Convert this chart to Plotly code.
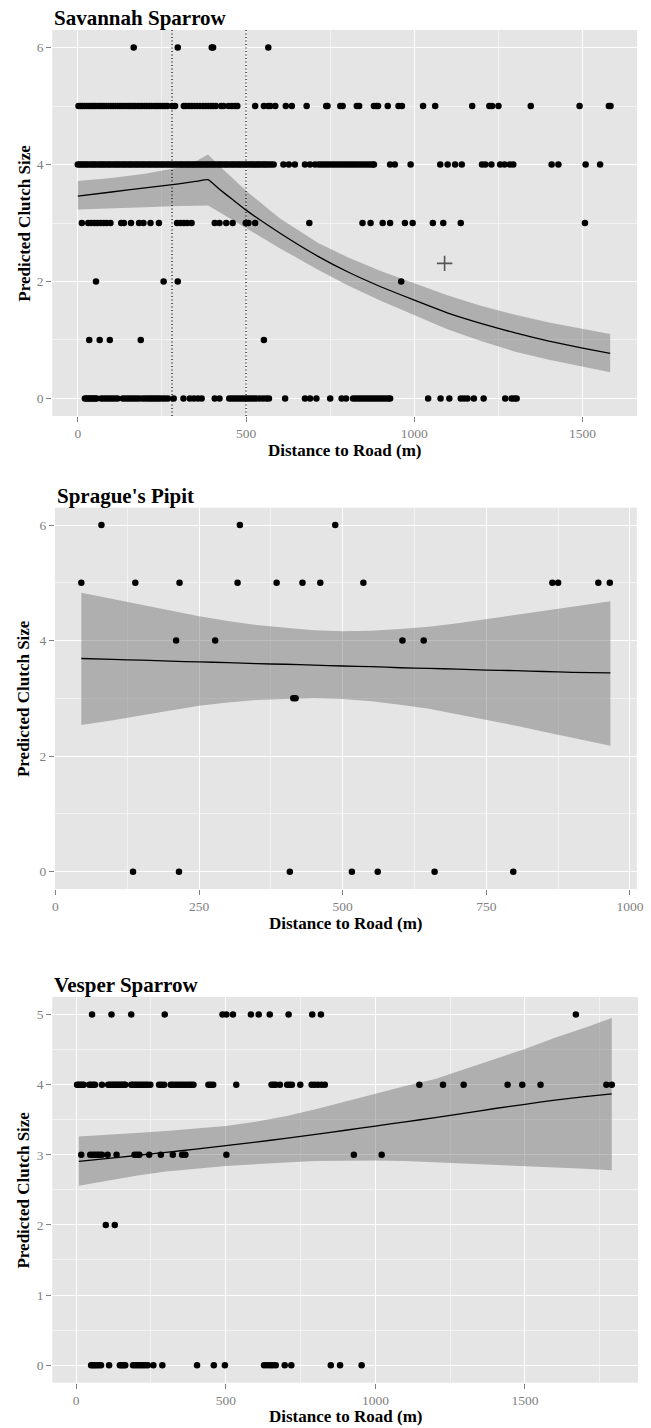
import plotly.graph_objects as go

W, H = 651, 1428

# ---------------- Savannah Sparrow ----------------
sav_y6 = [166, 297, 398, 402, 566]
sav_y5 = [2, 8, 14, 20, 27, 33, 40, 46, 52, 59, 66, 72, 78, 85, 92, 98, 105, 112,
          118, 125, 131, 138, 145, 152, 158, 165, 171, 178, 185, 191, 198, 205,
          212, 218, 225, 232, 238, 245, 252, 259, 266, 280, 289, 315, 322, 330,
          338, 346, 355, 363, 372, 380, 388, 396, 403, 410, 426, 433, 448, 458,
          467, 474, 527, 553, 566, 572, 587, 618, 636, 680, 738, 742, 780, 787,
          829, 836, 880, 887, 892, 921, 953, 963, 1026, 1062, 1172, 1223, 1231,
          1250, 1346, 1491, 1578, 1583]
sav_y4 = [0, 6, 12, 18, 24, 30, 37, 43, 49, 55, 62, 68, 74, 80, 87, 93, 99, 106,
          112, 118, 124, 131, 137, 143, 150, 156, 162, 169, 175, 181, 188, 194,
          200, 207, 213, 219, 226, 232, 238, 245, 251, 257, 264, 270, 276, 283,
          289, 295, 302, 308, 314, 321, 327, 333, 340, 346, 352, 359, 365, 371,
          378, 384, 390, 397, 403, 409, 416, 422, 428, 435, 441, 447, 454, 460,
          466, 473, 479, 485, 492, 498, 504, 511, 517, 523, 530, 536, 542, 549,
          555, 561, 568, 575, 582, 611, 627, 645, 675, 690, 705, 716, 724, 732,
          740, 748, 756, 764, 772, 780, 788, 796, 804, 812, 820, 828, 836, 844,
          852, 860, 868, 876, 880, 928, 942, 989, 1077, 1099, 1121, 1141, 1201,
          1211, 1229, 1255, 1268, 1284, 1294, 1408, 1428, 1509, 1552]
sav_y3 = [12, 31, 40, 50, 58, 68, 77, 86, 97, 129, 137, 158, 182, 195, 216, 241,
          295, 305, 315, 325, 338, 407, 421, 441, 460, 499, 507, 527, 688, 846,
          870, 906, 928, 972, 995, 1055, 1086, 1138, 1507]
sav_y2 = [54, 255, 297, 961]
sav_y1 = [34, 65, 95, 187, 553]
sav_y0 = [21, 26, 31, 36, 41, 46, 51, 56, 70, 78, 86, 94, 102, 110, 118, 134,
          142, 150, 158, 166, 174, 182, 192, 200, 208, 215, 222, 229, 236, 243,
          251, 259, 268, 285, 314, 333, 345, 357, 368, 407, 421, 450, 458, 466,
          474, 482, 490, 498, 506, 514, 522, 530, 540, 550, 560, 568, 616, 675,
          690, 709, 750, 784, 797, 818, 826, 834, 842, 850, 858, 866, 874, 882,
          890, 898, 906, 914, 922, 928, 1041, 1078, 1104, 1138, 1148, 1158, 1177,
          1206, 1270, 1289, 1297, 1304]
sav_curve_x = [0, 100, 200, 300, 350, 387, 420, 460, 500, 600, 714, 800, 900,
               1000, 1100, 1200, 1300, 1400, 1500, 1582]
sav_fit = [3.46, 3.53, 3.60, 3.67, 3.71, 3.74, 3.58, 3.40, 3.22, 2.83, 2.43,
           2.17, 1.91, 1.68, 1.46, 1.28, 1.12, 0.98, 0.86, 0.77]
sav_hi = [3.72, 3.77, 3.84, 3.95, 4.05, 4.17, 3.98, 3.76, 3.55, 3.08, 2.66,
          2.42, 2.18, 1.97, 1.76, 1.58, 1.43, 1.30, 1.19, 1.10]
sav_lo = [3.23, 3.25, 3.27, 3.29, 3.30, 3.30, 3.19, 3.05, 2.92, 2.57, 2.20,
          1.94, 1.67, 1.42, 1.18, 0.98, 0.80, 0.66, 0.54, 0.45]
sav_vlines = [280, 500]
sav_cross = (1090, 2.31)

# ---------------- Sprague's Pipit ----------------
spr_y6 = [80, 321, 487]
spr_y5 = [45, 139, 216, 317, 385, 430, 461, 536, 865, 875, 945, 965]
spr_y4 = [210, 278, 604, 641]
spr_y3 = [414, 418]
spr_y0 = [135, 215, 408, 516, 561, 660, 797]
spr_curve_x = [45, 100, 150, 200, 250, 300, 350, 400, 450, 500, 550, 600, 650,
               700, 750, 800, 850, 900, 966]
spr_fit = [3.69, 3.675, 3.66, 3.645, 3.63, 3.62, 3.60, 3.59, 3.575, 3.56, 3.55,
           3.53, 3.52, 3.505, 3.49, 3.48, 3.465, 3.45, 3.44]
spr_hi = [4.83, 4.72, 4.63, 4.52, 4.42, 4.34, 4.27, 4.22, 4.18, 4.16, 4.17,
          4.20, 4.24, 4.30, 4.37, 4.44, 4.51, 4.58, 4.68]
spr_lo = [2.54, 2.62, 2.70, 2.79, 2.87, 2.93, 2.97, 2.99, 3.00, 2.99, 2.95,
          2.89, 2.82, 2.73, 2.63, 2.53, 2.42, 2.31, 2.18]

# ---------------- Vesper Sparrow ----------------
ves_y5 = [53, 118, 184, 296, 489, 502, 524, 584, 610, 647, 710, 789, 818, 1670]
ves_y4 = [3, 8, 14, 20, 25, 44, 50, 57, 63, 86, 107, 113, 119, 125, 131, 137,
          143, 149, 155, 161, 164, 184, 190, 197, 204, 211, 218, 225, 232, 239,
          248, 277, 285, 294, 316, 322, 330, 338, 346, 354, 362, 370, 378, 385,
          392, 442, 450, 458, 535, 653, 660, 667, 681, 705, 713, 721, 749, 787,
          797, 808, 820, 831, 1147, 1226, 1295, 1442, 1491, 1552, 1772, 1790]
ves_y3 = [17, 47, 55, 63, 71, 78, 86, 105, 135, 195, 203, 211, 244, 283, 323,
          354, 360, 365, 502, 928, 1021]
ves_y2 = [99, 129]
ves_y0 = [50, 56, 62, 68, 75, 83, 110, 146, 152, 158, 164, 190, 198, 206, 214,
          222, 230, 239, 258, 288, 404, 460, 497, 628, 638, 648, 657, 667, 697,
          719, 851, 882, 954]
ves_curve_x = [9, 100, 200, 300, 400, 500, 600, 700, 800, 900, 1000, 1100, 1200,
               1300, 1400, 1500, 1600, 1700, 1790]
ves_fit = [2.905, 2.945, 2.99, 3.035, 3.08, 3.13, 3.18, 3.235, 3.29, 3.35, 3.41,
           3.47, 3.53, 3.595, 3.66, 3.72, 3.78, 3.83, 3.87]
ves_hi = [3.26, 3.28, 3.31, 3.34, 3.37, 3.41, 3.47, 3.55, 3.65, 3.76, 3.88,
          3.98, 4.08, 4.22, 4.36, 4.51, 4.67, 4.81, 4.95]
ves_lo = [2.56, 2.63, 2.70, 2.76, 2.80, 2.84, 2.87, 2.89, 2.91, 2.92, 2.92,
          2.91, 2.90, 2.88, 2.86, 2.84, 2.82, 2.80, 2.78]

titles = ["Savannah Sparrow", "Sprague's Pipit", "Vesper Sparrow"]
x_title = "Distance to Road (m)"
y_title = "Predicted Clutch Size"

SERIF = "Liberation Serif, Times New Roman, serif"
BAND = "rgba(100,100,100,0.42)"
GREY = "#7F7F7F"

fig = go.Figure()


def add_panel(idx, rows, cx, fit, lo, hi):
    xa = "x" if idx == 1 else f"x{idx}"
    ya = "y" if idx == 1 else f"y{idx}"
    # confidence band
    fig.add_trace(go.Scatter(x=cx + cx[::-1], y=hi + lo[::-1], fill="toself",
                             fillcolor=BAND, line=dict(width=0), mode="lines",
                             hoverinfo="skip", xaxis=xa, yaxis=ya))
    # observed nests
    for yv, xs in rows:
        fig.add_trace(go.Scatter(x=xs, y=[yv] * len(xs), mode="markers",
                                 marker=dict(color="black", size=6.5),
                                 xaxis=xa, yaxis=ya))
    # fitted line
    fig.add_trace(go.Scatter(x=cx, y=fit, mode="lines",
                             line=dict(color="black", width=1.3, shape="spline",
                                       smoothing=0.4),
                             xaxis=xa, yaxis=ya))


add_panel(1, [(6, sav_y6), (5, sav_y5), (4, sav_y4), (3, sav_y3), (2, sav_y2),
              (1, sav_y1), (0, sav_y0)], sav_curve_x, sav_fit, sav_lo, sav_hi)
fig.add_trace(go.Scatter(x=[sav_cross[0]], y=[sav_cross[1]], mode="markers",
                         marker=dict(symbol="cross-thin", size=11,
                                     line=dict(width=1.6, color="#555555")),
                         xaxis="x", yaxis="y"))
add_panel(2, [(6, spr_y6), (5, spr_y5), (4, spr_y4), (3, spr_y3), (0, spr_y0)],
          spr_curve_x, spr_fit, spr_lo, spr_hi)
add_panel(3, [(5, ves_y5), (4, ves_y4), (3, ves_y3), (2, ves_y2), (0, ves_y0)],
          ves_curve_x, ves_fit, ves_lo, ves_hi)

for v in sav_vlines:
    fig.add_shape(type="line", xref="x", yref="y domain", x0=v, x1=v, y0=0, y1=1,
                  line=dict(color="black", width=1.2, dash="1px,2.5px"))


def px_x(p):
    return p / W


def px_y(p):
    return 1 - p / H


# panel boxes in pixels: (left, right, top, bottom)
boxes = [(50, 644, 30, 416), (52.7, 643.7, 507.7, 889), (50, 645, 997, 1382.7)]
xranges = [[-76, 1662], [-1, 1012], [-80, 1878]]
yranges = [[-0.3, 6.3], [-0.3, 6.3], [-0.25, 5.25]]
xdt = [(500, 250), (250, 125), (500, 250)]
ydt = [(2, 1), (2, 1), (1, 0.5)]

axis_common = dict(showline=False, zeroline=False, ticks="outside", ticklen=5,
                   tickwidth=1, tickcolor=GREY, showgrid=True, gridcolor="white",
                   gridwidth=1.2,
                   tickfont=dict(family=SERIF, size=13.5, color=GREY))

layout = dict(width=W, height=H, margin=dict(l=0, r=0, t=0, b=0),
              paper_bgcolor="white", plot_bgcolor="#E5E5E5", showlegend=False)

annotations = []
for i, (l, r, t, b) in enumerate(boxes):
    n = "" if i == 0 else str(i + 1)
    layout["xaxis" + n] = dict(axis_common, domain=[px_x(l), px_x(r)],
                               range=xranges[i], dtick=xdt[i][0], tick0=0,
                               anchor="y" + n,
                               minor=dict(dtick=xdt[i][1], showgrid=True,
                                          gridcolor="#F2F2F2", gridwidth=0.6))
    layout["yaxis" + n] = dict(axis_common, domain=[px_y(b), px_y(t)],
                               range=yranges[i], dtick=ydt[i][0], tick0=0,
                               anchor="x" + n,
                               minor=dict(dtick=ydt[i][1], showgrid=True,
                                          gridcolor="#F2F2F2", gridwidth=0.6))
    annotations.append(dict(text=titles[i], xref="paper", yref="paper",
                            x=px_x(l), y=px_y(t - 12), xanchor="left",
                            yanchor="middle", showarrow=False,
                            font=dict(family=SERIF, size=21, color="black",
                                      weight="bold")))
    annotations.append(dict(text=x_title, xref="paper", yref="paper",
                            x=px_x((l + r) / 2), y=px_y(b + 34), xanchor="center",
                            yanchor="middle", showarrow=False,
                            font=dict(family=SERIF, size=17, color="black",
                                      weight="bold")))
    annotations.append(dict(text=y_title, xref="paper", yref="paper",
                            x=px_x(21), y=px_y((t + b) / 2), xanchor="center",
                            yanchor="middle", textangle=-90, showarrow=False,
                            font=dict(family=SERIF, size=17, color="black",
                                      weight="bold")))

layout["annotations"] = annotations
fig.update_layout(**layout)

fig.write_html("out.html")
